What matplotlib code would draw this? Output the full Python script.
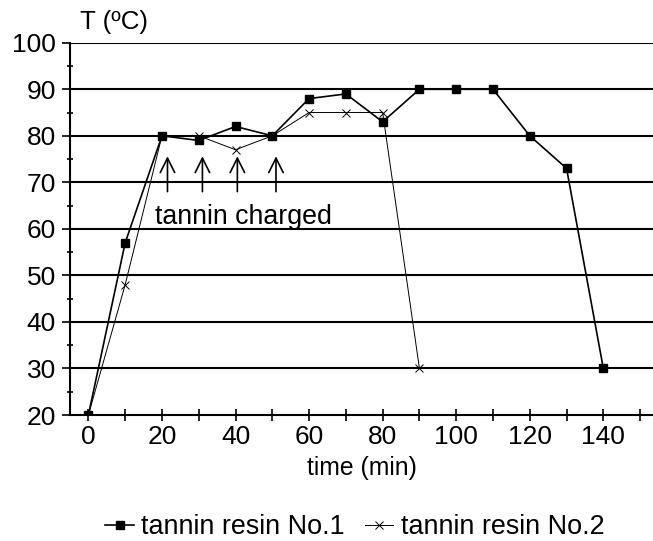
import matplotlib
matplotlib.use("Agg")
import matplotlib.pyplot as plt
from matplotlib.ticker import MultipleLocator

plt.rcParams['font.family'] = ['Liberation Sans', 'DejaVu Sans']

time1 = [0, 10, 20, 30, 40, 50, 60, 70, 80, 90, 100, 110, 120, 130, 140]
temp1 = [20, 57, 80, 79, 82, 80, 88, 89, 83, 90, 90, 90, 80, 73, 30]
time2 = [0, 10, 20, 30, 40, 50, 60, 70, 80, 90]
temp2 = [20, 48, 80, 80, 77, 80, 85, 85, 85, 30]
arrow_x = [21.5, 31, 40.5, 51]
label1 = "tannin resin No.1"
label2 = "tannin resin No.2"

fig = plt.figure(figsize=(6.53, 5.41), dpi=100)
ax = fig.add_axes([0.1072, 0.2329, 0.8928, 0.6881])

ax.set_xlim(-5, 153.5)
ax.set_ylim(20, 100)

for y in range(30, 101, 10):
    ax.axhline(y, color='black', lw=1.5, zorder=1)

ax.plot(time1, temp1, color='black', lw=1.2, marker='s', ms=5.5,
        mfc='black', mec='black', label=label1, zorder=3)
ax.plot(time2, temp2, color='black', lw=0.7, marker='x', ms=5.5,
        mew=0.7, label=label2, zorder=2)

for x in arrow_x:
    ax.annotate('', xy=(x, 75.6), xytext=(x, 68),
                arrowprops=dict(arrowstyle='->', color='black', lw=1.2,
                                mutation_scale=26, shrinkA=0, shrinkB=0))
ax.text(18.2, 62.6, 'tannin charged', fontsize=19.3, va='center', ha='left')

for s in ['top', 'right']:
    ax.spines[s].set_visible(False)
ax.spines['left'].set_linewidth(1.5)
ax.spines['bottom'].set_linewidth(1.5)

ax.xaxis.set_major_locator(MultipleLocator(20))
ax.xaxis.set_minor_locator(MultipleLocator(10))
ax.yaxis.set_major_locator(MultipleLocator(10))
ax.yaxis.set_minor_locator(MultipleLocator(5))
ax.tick_params(axis='x', which='both', direction='inout', length=9, width=1.2,
               labelsize=19, pad=3)
ax.tick_params(axis='y', which='major', direction='out', length=6, width=1.2,
               labelsize=19, pad=4)
ax.tick_params(axis='y', which='minor', direction='inout', length=5, width=1.2)

ax.set_xlabel('time (min)', fontsize=17.8, labelpad=5)
fig.text(114 / 653, 1 - 22 / 541, 'T (ºC)', fontsize=18.6, ha='center', va='center')

leg = fig.legend(loc='center', bbox_to_anchor=(355 / 653, 1 - 527 / 541), ncol=2,
                 frameon=False, fontsize=19.4, handlelength=1.05, handletextpad=0.28,
                 columnspacing=0.75, borderpad=0, borderaxespad=0)

fig.savefig('out.png', dpi=100)
